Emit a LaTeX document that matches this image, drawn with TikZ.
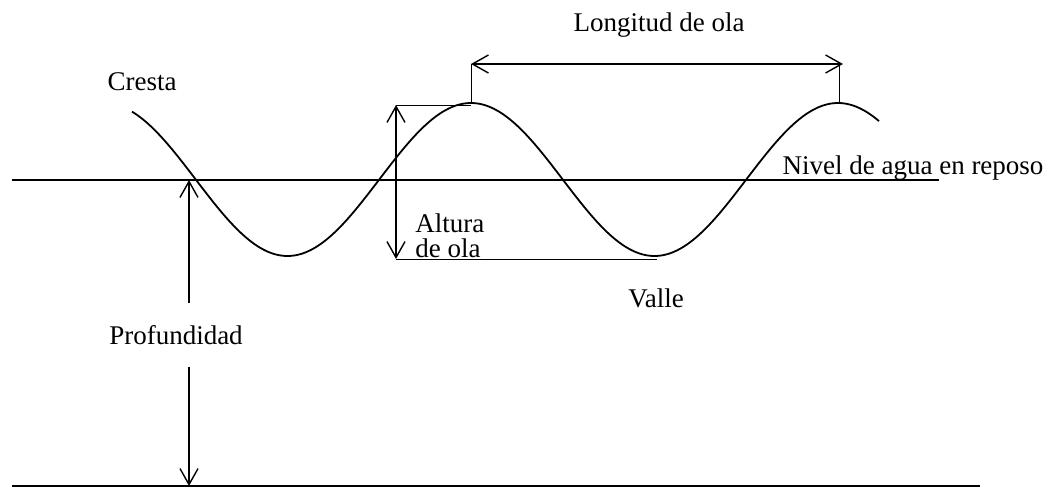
\documentclass[tikz,border=0pt]{standalone}
\usepackage{fontspec}
\setmainfont{Liberation Serif}
\usetikzlibrary{arrows.meta}

\begin{document}
\begin{tikzpicture}[
  x=0.5pt,y=-0.5pt,
  lbl/.style={font=\fontsize{13.5}{12.5}\selectfont,inner sep=0pt,align=left},
  lvl/.style={draw,line width=0.9pt},
  wave/.style={draw,line width=0.9pt},
  dim/.style={draw,line width=0.7pt,-{Straight Barb[length=8pt,width=9pt]}},
  dimboth/.style={draw,line width=0.7pt,{Straight Barb[length=8pt,width=9pt]}-{Straight Barb[length=8pt,width=9pt]}},
  tick/.style={draw,line width=0.45pt}
]
\useasboundingbox (0,0) rectangle (1054,487);
\coordinate (surfL) at (12,180);
\coordinate (surfR) at (939,180);
\coordinate (bedL) at (12,486);
\coordinate (bedR) at (980,486);
\coordinate (crestA) at (471,103);
\coordinate (crestB) at (839,103);
\coordinate (troughB) at (657,259);
\coordinate (lenA) at (471,64);
\coordinate (lenB) at (843,64);
\coordinate (lenBt) at (839,64);
\coordinate (hTop) at (396,105);
\coordinate (hBot) at (396,259);
\coordinate (dTop) at (189,180);
\coordinate (dBot) at (189,486);
\node[lbl] (cresta) at (142,82) {Cresta};
\node[lbl] (longitud) at (659,25) {Longitud de ola};
\node[lbl] (nivel) at (913,168) {Nivel de agua en reposo};
\node[lbl,anchor=west] (altura) at (415,236) {Altura\\de ola};
\node[lbl] (valle) at (656,298) {Valle};
\node[lbl,minimum height=32pt] (prof) at (176,335) {Profundidad};
\draw[lvl] (surfL) -- (surfR);
\draw[lvl] (bedL) -- (bedR);
\draw[wave] plot[domain=132:879,samples=160,smooth] (\x,{179.5-76.5*cos((\x-471)/367*360)});
\draw[dimboth] (lenA) -- (lenB);
\draw[tick] (lenA) -- (crestA);
\draw[tick] (lenBt) -- (crestB);
\draw[dimboth] (hBot) -- (hTop);
\draw[tick] (hTop) -- (crestA |- hTop);
\draw[tick] (hBot) -- (troughB);
\draw[dim] (prof.north -| dTop) -- (dTop);
\draw[dim] (prof.south -| dBot) -- (dBot);
\end{tikzpicture}
\end{document}
